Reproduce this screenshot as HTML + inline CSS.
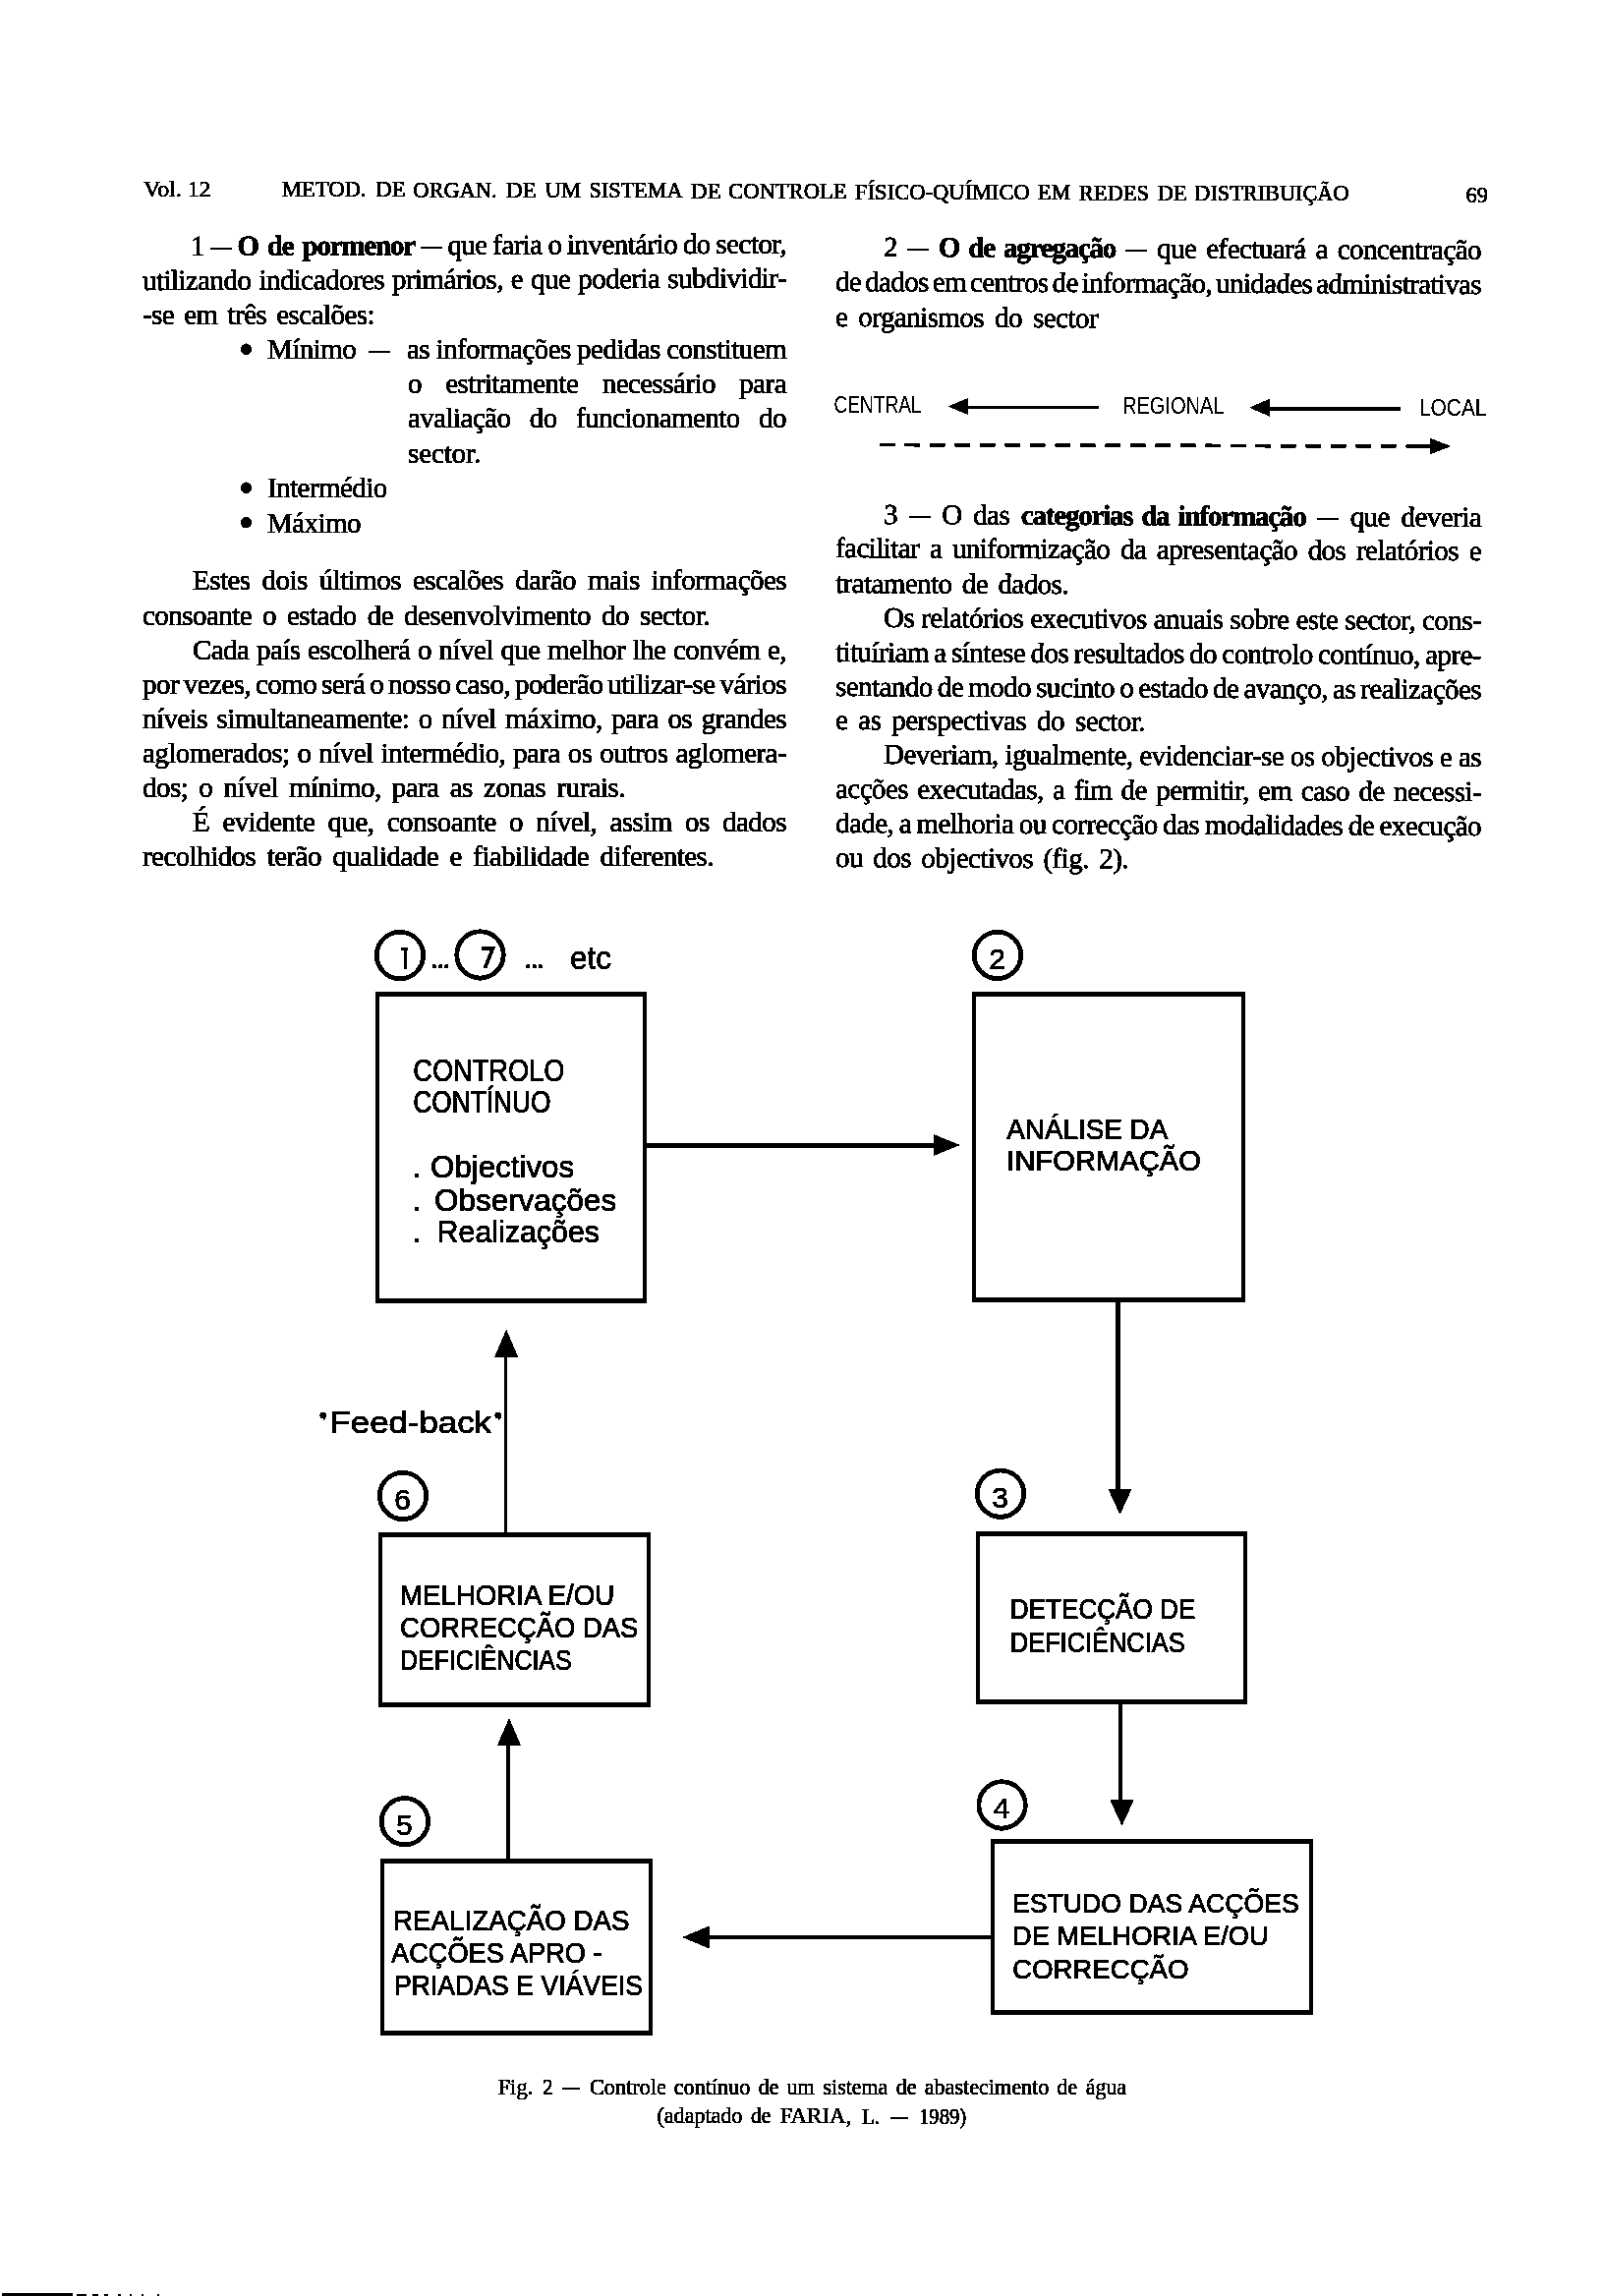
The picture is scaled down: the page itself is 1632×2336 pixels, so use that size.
<!DOCTYPE html>
<html><head><meta charset="utf-8"><title>page</title><style>
html,body{margin:0;padding:0}
body{width:1632px;height:2336px;background:#fff;position:relative;overflow:hidden}
.t{position:absolute;white-space:pre;font-family:"Liberation Serif",serif;font-size:29px;line-height:35px;color:#000;transform-origin:0 27px;-webkit-text-stroke:0.55px #000}
.t b{letter-spacing:-1.2px;word-spacing:3px}
.d{display:inline-block;width:22px;height:2.2px;background:#000;vertical-align:6px}
svg{position:absolute;left:0;top:0}

#pg{position:absolute;left:0;top:0;width:1632px;height:2336px;background:#fff;overflow:hidden}</style></head>
<body>
<svg width="0" height="0" style="position:absolute"><filter id="bw" color-interpolation-filters="sRGB"><feColorMatrix type="matrix" values="0.333 0.333 0.333 0 0 0.333 0.333 0.333 0 0 0.333 0.333 0.333 0 0 0 0 0 1 0"/><feComponentTransfer><feFuncR type="discrete" tableValues="0 0 0 0 0 0 0 0 0 0 0 0 1 1 1 1 1 1 1 1"/><feFuncG type="discrete" tableValues="0 0 0 0 0 0 0 0 0 0 0 0 1 1 1 1 1 1 1 1"/><feFuncB type="discrete" tableValues="0 0 0 0 0 0 0 0 0 0 0 0 1 1 1 1 1 1 1 1"/></feComponentTransfer></filter></svg>
<div id="pg" style="filter:url(#bw)">
<div class="t" style="left:194px;top:233.0px;letter-spacing:-0.550px;word-spacing:-0.974px;transform:rotate(-0.23deg)">1 <i class="d"></i> <b>O de pormenor</b> <i class="d"></i> que faria o inventário do sector,</div>
<div class="t" style="left:145px;top:268.0px;letter-spacing:-0.550px;word-spacing:1.253px;transform:rotate(-0.22deg)">utilizando indicadores primários, e que poderia subdividir-</div>
<div class="t" style="left:145px;top:303.0px;letter-spacing:-0.550px;word-spacing:3.333px">-se em três escalões:</div>
<div class="t" style="left:272px;top:338.0px;letter-spacing:-0.550px">Mínimo</div>
<div class="t" style="left:375px;top:338.0px;letter-spacing:-0.550px"><i class="d"></i></div>
<div class="t" style="left:414px;top:338.0px;letter-spacing:-0.550px;word-spacing:-0.312px">as informações pedidas constituem</div>
<div class="t" style="left:415px;top:373.0px;letter-spacing:-0.550px;word-spacing:17.620px">o estritamente necessário para</div>
<div class="t" style="left:415px;top:408.0px;letter-spacing:-0.550px;word-spacing:12.594px">avaliação do funcionamento do</div>
<div class="t" style="left:415px;top:443.5px;letter-spacing:-0.128px">sector.</div>
<div class="t" style="left:272px;top:479.0px;letter-spacing:-0.550px">Intermédio</div>
<div class="t" style="left:272px;top:514.5px;letter-spacing:-0.550px">Máximo</div>
<div class="t" style="left:196px;top:573.0px;letter-spacing:-0.550px;word-spacing:5.383px">Estes dois últimos escalões darão mais informações</div>
<div class="t" style="left:145px;top:608.5px;letter-spacing:-0.550px;word-spacing:4.326px">consoante o estado de desenvolvimento do sector.</div>
<div class="t" style="left:196px;top:643.5px;letter-spacing:-0.550px;word-spacing:0.856px">Cada país escolherá o nível que melhor lhe convém e,</div>
<div class="t" style="left:145px;top:678.5px;letter-spacing:-0.550px;word-spacing:-1.901px">por vezes, como será o nosso caso, poderão utilizar-se vários</div>
<div class="t" style="left:145px;top:713.5px;letter-spacing:-0.550px;word-spacing:2.862px">níveis simultaneamente: o nível máximo, para os grandes</div>
<div class="t" style="left:145px;top:748.5px;letter-spacing:-0.550px;word-spacing:1.181px">aglomerados; o nível intermédio, para os outros aglomera-</div>
<div class="t" style="left:145px;top:783.5px;letter-spacing:-0.550px;word-spacing:4.525px">dos; o nível mínimo, para as zonas rurais.</div>
<div class="t" style="left:196px;top:818.5px;letter-spacing:-0.550px;word-spacing:6.586px">É evidente que, consoante o nível, assim os dados</div>
<div class="t" style="left:145px;top:854.0px;letter-spacing:-0.550px;word-spacing:4.681px">recolhidos terão qualidade e fiabilidade diferentes.</div>
<div class="t" style="left:899px;top:234.0px;letter-spacing:-0.550px;word-spacing:3.227px;transform:rotate(0.27deg)">2 <i class="d"></i> <b>O de agregação</b> <i class="d"></i> que efectuará a concentração</div>
<div class="t" style="left:850px;top:269.0px;letter-spacing:-0.634px;word-spacing:-2.498px;transform:rotate(0.27deg)">de dados em centros de informação, unidades administrativas</div>
<div class="t" style="left:850px;top:304.5px;letter-spacing:-0.550px;word-spacing:4.344px;transform:rotate(0.27deg)">e organismos do sector</div>
<div class="t" style="left:899px;top:505.5px;letter-spacing:-0.550px;word-spacing:4.901px;transform:rotate(0.27deg)">3 <i class="d"></i> O das <b>categorias da informação</b> <i class="d"></i> que deveria</div>
<div class="t" style="left:850px;top:540.0px;letter-spacing:-0.550px;word-spacing:3.980px;transform:rotate(0.27deg)">facilitar a uniformização da apresentação dos relatórios e</div>
<div class="t" style="left:850px;top:575.5px;letter-spacing:-0.550px;word-spacing:3.609px;transform:rotate(0.27deg)">tratamento de dados.</div>
<div class="t" style="left:899px;top:610.5px;letter-spacing:-0.550px;word-spacing:0.308px;transform:rotate(0.27deg)">Os relatórios executivos anuais sobre este sector, cons-</div>
<div class="t" style="left:850px;top:645.5px;letter-spacing:-0.550px;word-spacing:-1.299px;transform:rotate(0.27deg)">tituíriam a síntese dos resultados do controlo contínuo, apre-</div>
<div class="t" style="left:850px;top:680.5px;letter-spacing:-0.550px;word-spacing:-1.595px;transform:rotate(0.27deg)">sentando de modo sucinto o estado de avanço, as realizações</div>
<div class="t" style="left:850px;top:715.0px;letter-spacing:-0.550px;word-spacing:4.285px;transform:rotate(0.27deg)">e as perspectivas do sector.</div>
<div class="t" style="left:899px;top:750.0px;letter-spacing:-0.550px;word-spacing:0.086px;transform:rotate(0.27deg)">Deveriam, igualmente, evidenciar-se os objectivos e as</div>
<div class="t" style="left:850px;top:784.5px;letter-spacing:-0.550px;word-spacing:2.625px;transform:rotate(0.27deg)">acções executadas, a fim de permitir, em caso de necessi-</div>
<div class="t" style="left:850px;top:820.0px;letter-spacing:-0.550px;word-spacing:-1.215px;transform:rotate(0.27deg)">dade, a melhoria ou correcção das modalidades de execução</div>
<div class="t" style="left:850px;top:855.0px;letter-spacing:-0.550px;word-spacing:3.707px;transform:rotate(0.27deg)">ou dos objectivos (fig. 2).</div>
<svg width="1632" height="2336" viewBox="0 0 1632 2336">
<text x="146" y="199.5" font-family="'Liberation Serif',serif" font-size="23" textLength="68.5" lengthAdjust="spacingAndGlyphs" stroke="#000" stroke-width="0.55">Vol. 12</text>
<text x="286.8" y="200.0" font-family="'Liberation Serif',serif" font-size="22.5" textLength="85.7" lengthAdjust="spacingAndGlyphs" stroke="#000" stroke-width="0.55">METOD.</text>
<text x="382.3" y="200.41" font-family="'Liberation Serif',serif" font-size="22.5" textLength="30.4" lengthAdjust="spacingAndGlyphs" stroke="#000" stroke-width="0.55">DE</text>
<text x="420.2" y="200.58" font-family="'Liberation Serif',serif" font-size="22.5" textLength="85.5" lengthAdjust="spacingAndGlyphs" stroke="#000" stroke-width="0.55">ORGAN.</text>
<text x="515.0" y="200.99" font-family="'Liberation Serif',serif" font-size="22.5" textLength="31.0" lengthAdjust="spacingAndGlyphs" stroke="#000" stroke-width="0.55">DE</text>
<text x="554.6" y="201.16" font-family="'Liberation Serif',serif" font-size="22.5" textLength="36.4" lengthAdjust="spacingAndGlyphs" stroke="#000" stroke-width="0.55">UM</text>
<text x="599.6" y="201.36" font-family="'Liberation Serif',serif" font-size="22.5" textLength="95.0" lengthAdjust="spacingAndGlyphs" stroke="#000" stroke-width="0.55">SISTEMA</text>
<text x="702.7" y="201.8" font-family="'Liberation Serif',serif" font-size="22.5" textLength="31.0" lengthAdjust="spacingAndGlyphs" stroke="#000" stroke-width="0.55">DE</text>
<text x="741.1" y="201.97" font-family="'Liberation Serif',serif" font-size="22.5" textLength="120.5" lengthAdjust="spacingAndGlyphs" stroke="#000" stroke-width="0.55">CONTROLE</text>
<text x="870.1" y="202.53" font-family="'Liberation Serif',serif" font-size="22.5" textLength="177.7" lengthAdjust="spacingAndGlyphs" stroke="#000" stroke-width="0.55">FÍSICO-QUÍMICO</text>
<text x="1055.7" y="203.33" font-family="'Liberation Serif',serif" font-size="22.5" textLength="33.9" lengthAdjust="spacingAndGlyphs" stroke="#000" stroke-width="0.55">EM</text>
<text x="1097.7" y="203.51" font-family="'Liberation Serif',serif" font-size="22.5" textLength="71.2" lengthAdjust="spacingAndGlyphs" stroke="#000" stroke-width="0.55">REDES</text>
<text x="1177.6" y="203.86" font-family="'Liberation Serif',serif" font-size="22.5" textLength="30.4" lengthAdjust="spacingAndGlyphs" stroke="#000" stroke-width="0.55">DE</text>
<text x="1215.3" y="204.02" font-family="'Liberation Serif',serif" font-size="22.5" textLength="157.2" lengthAdjust="spacingAndGlyphs" stroke="#000" stroke-width="0.55">DISTRIBUIÇÃO</text>
<text x="1491.5" y="205.7" font-family="'Liberation Serif',serif" font-size="23" textLength="22.5" lengthAdjust="spacingAndGlyphs" stroke="#000" stroke-width="0.55">69</text>
<circle cx="250.5" cy="355.2" r="5.6" fill="#000"/>
<circle cx="250.5" cy="496.2" r="5.6" fill="#000"/>
<circle cx="250.5" cy="531.7" r="5.6" fill="#000"/>
<text x="848.5" y="420" font-family="'Liberation Sans',sans-serif" font-size="23" textLength="89.0" lengthAdjust="spacingAndGlyphs">CENTRAL</text>
<line x1="983" y1="414.6" x2="1118" y2="414.6" stroke="#000" stroke-width="3.4"/>
<polygon points="964.6,413.6 985.1,405.1 985.1,422.1" fill="#000"/>
<text x="1142" y="421.3" font-family="'Liberation Sans',sans-serif" font-size="23" textLength="103.5" lengthAdjust="spacingAndGlyphs">REGIONAL</text>
<line x1="1291" y1="416.3" x2="1425" y2="416.3" stroke="#000" stroke-width="3.4"/>
<polygon points="1271.0,414.8 1292.0,405.8 1292.0,423.8" fill="#000"/>
<text x="1444" y="423.2" font-family="'Liberation Sans',sans-serif" font-size="23" textLength="68.5" lengthAdjust="spacingAndGlyphs">LOCAL</text>
<line x1="895" y1="452.5" x2="1449" y2="454" stroke="#000" stroke-width="3.6" stroke-dasharray="15.5 10"/>
<line x1="1434" y1="454" x2="1458" y2="454" stroke="#000" stroke-width="3.6"/>
<polygon points="1476.4,454.0 1455.4,446.0 1455.4,462.0" fill="#000"/>
<circle cx="407" cy="972" r="23.70" fill="none" stroke="#000" stroke-width="4.6"/>
<rect x="411" y="964" width="3.2" height="22" fill="#000"/><rect x="408" y="964" width="6.8" height="3" fill="#000"/>
<circle cx="488.5" cy="971.4" r="23.70" fill="none" stroke="#000" stroke-width="4.6"/>
<path d="M490.0,964.9H501.5L493.5,984.9" fill="none" stroke="#000" stroke-width="3.6" stroke-linejoin="miter"/>
<circle cx="1015" cy="971.9" r="23.70" fill="none" stroke="#000" stroke-width="4.6"/>
<text x="1014.5" y="985.9" font-family="'Liberation Sans',sans-serif" font-size="30" stroke="#000" stroke-width="0.5" text-anchor="middle">2</text>
<circle cx="1018" cy="1519.7" r="23.70" fill="none" stroke="#000" stroke-width="4.6"/>
<text x="1017.5" y="1533.7" font-family="'Liberation Sans',sans-serif" font-size="30" stroke="#000" stroke-width="0.5" text-anchor="middle">3</text>
<circle cx="1019.6" cy="1836.4" r="23.70" fill="none" stroke="#000" stroke-width="4.6"/>
<text x="1019.1" y="1850.4" font-family="'Liberation Sans',sans-serif" font-size="30" stroke="#000" stroke-width="0.5" text-anchor="middle">4</text>
<circle cx="411.9" cy="1853.2" r="23.70" fill="none" stroke="#000" stroke-width="4.6"/>
<text x="411.4" y="1867.2" font-family="'Liberation Sans',sans-serif" font-size="30" stroke="#000" stroke-width="0.5" text-anchor="middle">5</text>
<circle cx="410" cy="1521.9" r="23.70" fill="none" stroke="#000" stroke-width="4.6"/>
<text x="409.5" y="1535.9" font-family="'Liberation Sans',sans-serif" font-size="30" stroke="#000" stroke-width="0.5" text-anchor="middle">6</text>
<rect x="440.0" y="981.5" width="3.8" height="3.8" fill="#000"/>
<rect x="446.2" y="981.5" width="3.8" height="3.8" fill="#000"/>
<rect x="452.4" y="981.5" width="3.8" height="3.8" fill="#000"/>
<rect x="535.5" y="981.5" width="3.8" height="3.8" fill="#000"/>
<rect x="541.7" y="981.5" width="3.8" height="3.8" fill="#000"/>
<rect x="547.9" y="981.5" width="3.8" height="3.8" fill="#000"/>
<text x="580" y="986.4" font-family="'Liberation Sans',sans-serif" font-size="34" textLength="42.0" lengthAdjust="spacingAndGlyphs" stroke="#000" stroke-width="0.7">etc</text>
<path d="M382,1009H658V1326H382Z M386,1014V1321H654V1014Z" fill="#000" fill-rule="evenodd"/>
<path d="M989,1009H1267V1325H989Z M993,1014V1320H1263V1014Z" fill="#000" fill-rule="evenodd"/>
<path d="M993,1558H1269V1734H993Z M997,1563V1729H1265V1563Z" fill="#000" fill-rule="evenodd"/>
<path d="M1008,1871H1336V2050H1008Z M1012,1876V2045H1332V1876Z" fill="#000" fill-rule="evenodd"/>
<path d="M387,1891H664V2071H387Z M391,1896V2066H660V1896Z" fill="#000" fill-rule="evenodd"/>
<path d="M385,1559H662V1737H385Z M389,1564V1732H658V1564Z" fill="#000" fill-rule="evenodd"/>
<rect x="658" y="1163.0" width="293" height="5" fill="#000"/>
<polygon points="976.6,1165.0 949.6,1154.0 949.6,1176.0" fill="#000"/>
<rect x="1135.0" y="1325" width="5" height="191" fill="#000"/>
<polygon points="1139.5,1540.8 1127.5,1514.8 1151.5,1514.8" fill="#000"/>
<rect x="1138.0" y="1734" width="4" height="99" fill="#000"/>
<polygon points="1141.5,1857.6 1129.5,1831.6 1153.5,1831.6" fill="#000"/>
<rect x="720" y="1969.0" width="288" height="4" fill="#000"/>
<polygon points="694.3,1970.9 721.7,1959.4 721.7,1982.4" fill="#000"/>
<rect x="515.25" y="1774" width="3.5" height="117" fill="#000"/>
<polygon points="518.0,1748.0 506.0,1776.0 530.0,1776.0" fill="#000"/>
<rect x="512.9" y="1379" width="3.2" height="180" fill="#000"/>
<polygon points="515.2,1352.8 503.2,1380.8 527.2,1380.8" fill="#000"/>
<text x="420.3" y="1099.7" font-family="'Liberation Sans',sans-serif" font-size="31" textLength="154.0" lengthAdjust="spacingAndGlyphs" stroke="#000" stroke-width="0.7">CONTROLO</text>
<text x="420.3" y="1132.1" font-family="'Liberation Sans',sans-serif" font-size="31" textLength="140.2" lengthAdjust="spacingAndGlyphs" stroke="#000" stroke-width="0.7">CONTÍNUO</text>
<text x="420" y="1197.8" font-family="'Liberation Sans',sans-serif" font-size="31" stroke="#000" stroke-width="0.7">.</text>
<text x="438.1" y="1197.8" font-family="'Liberation Sans',sans-serif" font-size="32" textLength="146.0" lengthAdjust="spacingAndGlyphs" stroke="#000" stroke-width="0.7">Objectivos</text>
<text x="420" y="1231.8" font-family="'Liberation Sans',sans-serif" font-size="31" stroke="#000" stroke-width="0.7">.</text>
<text x="442.1" y="1231.8" font-family="'Liberation Sans',sans-serif" font-size="32" textLength="185.0" lengthAdjust="spacingAndGlyphs" stroke="#000" stroke-width="0.7">Observações</text>
<text x="420" y="1264" font-family="'Liberation Sans',sans-serif" font-size="31" stroke="#000" stroke-width="0.7">.</text>
<text x="444.6" y="1264" font-family="'Liberation Sans',sans-serif" font-size="32" textLength="165.4" lengthAdjust="spacingAndGlyphs" stroke="#000" stroke-width="0.7">Realizações</text>
<text x="1024.3" y="1159" font-family="'Liberation Sans',sans-serif" font-size="29" textLength="164.0" lengthAdjust="spacingAndGlyphs" stroke="#000" stroke-width="0.7">ANÁLISE DA</text>
<text x="1024.3" y="1191.3" font-family="'Liberation Sans',sans-serif" font-size="29" textLength="197.5" lengthAdjust="spacingAndGlyphs" stroke="#000" stroke-width="0.7">INFORMAÇÃO</text>
<text x="1027.8" y="1647.3" font-family="'Liberation Sans',sans-serif" font-size="29" textLength="188.5" lengthAdjust="spacingAndGlyphs" stroke="#000" stroke-width="0.7">DETECÇÃO DE</text>
<text x="1027.8" y="1680.5" font-family="'Liberation Sans',sans-serif" font-size="29" textLength="177.8" lengthAdjust="spacingAndGlyphs" stroke="#000" stroke-width="0.7">DEFICIÊNCIAS</text>
<text x="1030" y="1946.4" font-family="'Liberation Sans',sans-serif" font-size="28" textLength="291.7" lengthAdjust="spacingAndGlyphs" stroke="#000" stroke-width="0.7">ESTUDO DAS ACÇÕES</text>
<text x="1030" y="1978.9" font-family="'Liberation Sans',sans-serif" font-size="28" textLength="260.7" lengthAdjust="spacingAndGlyphs" stroke="#000" stroke-width="0.7">DE MELHORIA E/OU</text>
<text x="1030" y="2012.6" font-family="'Liberation Sans',sans-serif" font-size="28" textLength="179.5" lengthAdjust="spacingAndGlyphs" stroke="#000" stroke-width="0.7">CORRECÇÃO</text>
<text x="400" y="1964.1" font-family="'Liberation Sans',sans-serif" font-size="29" textLength="240.6" lengthAdjust="spacingAndGlyphs" stroke="#000" stroke-width="0.7">REALIZAÇÃO DAS</text>
<text x="398" y="1996.9" font-family="'Liberation Sans',sans-serif" font-size="29" textLength="214.6" lengthAdjust="spacingAndGlyphs" stroke="#000" stroke-width="0.7">ACÇÕES APRO -</text>
<text x="400.9" y="2029.8" font-family="'Liberation Sans',sans-serif" font-size="29" textLength="253.2" lengthAdjust="spacingAndGlyphs" stroke="#000" stroke-width="0.7">PRIADAS E VIÁVEIS</text>
<text x="407.1" y="1633.1" font-family="'Liberation Sans',sans-serif" font-size="29" textLength="218.0" lengthAdjust="spacingAndGlyphs" stroke="#000" stroke-width="0.7">MELHORIA E/OU</text>
<text x="407.1" y="1666" font-family="'Liberation Sans',sans-serif" font-size="29" textLength="242.2" lengthAdjust="spacingAndGlyphs" stroke="#000" stroke-width="0.7">CORRECÇÃO DAS</text>
<text x="407.1" y="1698.8" font-family="'Liberation Sans',sans-serif" font-size="29" textLength="174.5" lengthAdjust="spacingAndGlyphs" stroke="#000" stroke-width="0.7">DEFICIÊNCIAS</text>
<text x="335.5" y="1458.1" font-family="'Liberation Sans',sans-serif" font-size="30.5" textLength="164.5" lengthAdjust="spacingAndGlyphs" stroke="#000" stroke-width="0.7">Feed-back</text>
<path d="M325.3,1440.3 a3.3,3.3 0 1,1 6.6,0 q0,3 -3,5.5 q0.8,-2.2 -0.3,-2.6 a3.3,3.3 0 0,1 -3.3,-2.9Z" fill="#000"/>
<path d="M503.3,1440.3 a3.3,3.3 0 1,1 6.6,0 q0,3 -3,5.5 q0.8,-2.2 -0.3,-2.6 a3.3,3.3 0 0,1 -3.3,-2.9Z" fill="#000"/>
<text x="506.5" y="2130.5" font-family="'Liberation Serif',serif" font-size="23" textLength="35.9" lengthAdjust="spacingAndGlyphs" stroke="#000" stroke-width="0.45">Fig.</text>
<text x="551.9" y="2130.56" font-family="'Liberation Serif',serif" font-size="23" textLength="10.6" lengthAdjust="spacingAndGlyphs" stroke="#000" stroke-width="0.45">2</text>
<text x="600.0" y="2130.63" font-family="'Liberation Serif',serif" font-size="23" textLength="77.8" lengthAdjust="spacingAndGlyphs" stroke="#000" stroke-width="0.45">Controle</text>
<text x="685.8" y="2130.75" font-family="'Liberation Serif',serif" font-size="23" textLength="77.5" lengthAdjust="spacingAndGlyphs" stroke="#000" stroke-width="0.45">contínuo</text>
<text x="771.7" y="2130.87" font-family="'Liberation Serif',serif" font-size="23" textLength="20.8" lengthAdjust="spacingAndGlyphs" stroke="#000" stroke-width="0.45">de</text>
<text x="800.5" y="2130.91" font-family="'Liberation Serif',serif" font-size="23" textLength="28.3" lengthAdjust="spacingAndGlyphs" stroke="#000" stroke-width="0.45">um</text>
<text x="837.5" y="2130.97" font-family="'Liberation Serif',serif" font-size="23" textLength="65.8" lengthAdjust="spacingAndGlyphs" stroke="#000" stroke-width="0.45">sistema</text>
<text x="911.8" y="2131.07" font-family="'Liberation Serif',serif" font-size="23" textLength="20.9" lengthAdjust="spacingAndGlyphs" stroke="#000" stroke-width="0.45">de</text>
<text x="940.7" y="2131.11" font-family="'Liberation Serif',serif" font-size="23" textLength="126.6" lengthAdjust="spacingAndGlyphs" stroke="#000" stroke-width="0.45">abastecimento</text>
<text x="1075.3" y="2131.3" font-family="'Liberation Serif',serif" font-size="23" textLength="20.9" lengthAdjust="spacingAndGlyphs" stroke="#000" stroke-width="0.45">de</text>
<text x="1104.7" y="2131.34" font-family="'Liberation Serif',serif" font-size="23" textLength="41.4" lengthAdjust="spacingAndGlyphs" stroke="#000" stroke-width="0.45">água</text>
<rect x="572" y="2123.8" width="18" height="2" fill="#000"/>
<text x="668.5" y="2160.4" font-family="'Liberation Serif',serif" font-size="23" textLength="86.9" lengthAdjust="spacingAndGlyphs" stroke="#000" stroke-width="0.45">(adaptado</text>
<text x="763.9" y="2160.46" font-family="'Liberation Serif',serif" font-size="23" textLength="20.6" lengthAdjust="spacingAndGlyphs" stroke="#000" stroke-width="0.45">de</text>
<text x="793.6" y="2160.48" font-family="'Liberation Serif',serif" font-size="23" textLength="72.5" lengthAdjust="spacingAndGlyphs" stroke="#000" stroke-width="0.45">FARIA,</text>
<text x="876.7" y="2160.53" font-family="'Liberation Serif',serif" font-size="23" textLength="18.5" lengthAdjust="spacingAndGlyphs" stroke="#000" stroke-width="0.45">L.</text>
<text x="935.0" y="2160.57" font-family="'Liberation Serif',serif" font-size="23" textLength="48.2" lengthAdjust="spacingAndGlyphs" stroke="#000" stroke-width="0.45">1989)</text>
<rect x="906" y="2154" width="18" height="1.8" fill="#000"/>
<rect x="2" y="2333" width="72" height="3" fill="#000"/>
<rect x="78" y="2334" width="10" height="2" fill="#000"/>
<rect x="94" y="2334" width="6" height="2" fill="#000"/>
<rect x="106" y="2334" width="4" height="2" fill="#000"/>
<rect x="120" y="2334" width="3" height="2" fill="#000"/>
<rect x="132" y="2334" width="2" height="2" fill="#000"/>
<rect x="144" y="2334" width="2" height="2" fill="#000"/>
<rect x="160" y="2334" width="2" height="2" fill="#000"/>
</svg>
</div>
</body></html>
